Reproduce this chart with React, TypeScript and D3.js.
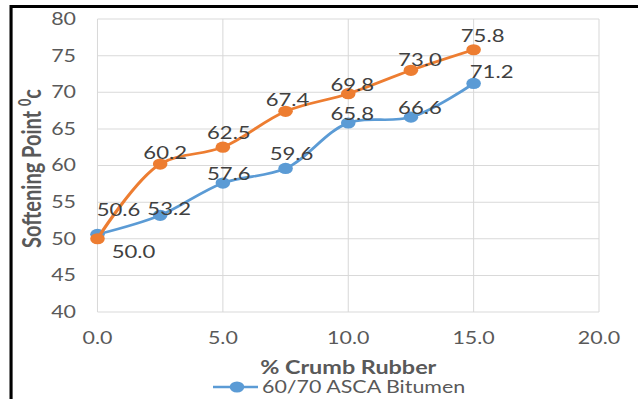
import React from "react";
import * as d3 from "d3";

// Crumb rubber content (%) and softening point (°C) for the two binders
const crumbRubber = [0, 2.5, 5, 7.5, 10, 12.5, 15];
const ascaBitumen = [50.6, 53.2, 57.6, 59.6, 65.8, 66.6, 71.2];
const secondBinder = [50.0, 60.2, 62.5, 67.4, 69.8, 73.0, 75.8];
const xTicks = [0, 5, 10, 15, 20];
const yTicks = [40, 45, 50, 55, 60, 65, 70, 75, 80];
const legendName = "60/70 ASCA Bitumen";

const W = 643;
const H = 399;
// the chart is drawn in a narrower coordinate space, then stretched horizontally
const SX = 1.3;
const VW = W / SX;

const FONT = "Lato, Carlito, Calibri, 'Open Sans', sans-serif";
const BLUE = "#5B9BD5";
const ORANGE = "#ED7D31";
const GRID = "#D9D9D9";

// label placement relative to each point (px, screen space: dx, dy of text centre)
const blueOffsets: [number, number][] = [
  [21, -24], [9, -6], [6, -9], [6, -15], [4, -9], [9, -9], [18, -12],
];
const orangeOffsets: [number, number][] = [
  [36, 13], [5, -11], [6, -14], [2, -11], [4, -9], [9, -10], [9, -14],
];

export default function App() {
  const x = d3.scaleLinear().domain([0, 20]).range([97.5 / SX, 599 / SX]);
  const y = d3.scaleLinear().domain([40, 80]).range([312, 19]);

  const line = d3
    .line<number>()
    .x((_, i) => x(crumbRubber[i]))
    .y((d) => y(d))
    .curve(d3.curveCatmullRom.alpha(0.5));

  const series = [
    { values: ascaBitumen, color: BLUE, offsets: blueOffsets },
    { values: secondBinder, color: ORANGE, offsets: orangeOffsets },
  ];

  const [x0, x1] = x.range();
  const [y0, y1] = y.range();
  const cx = (x0 + x1) / 2;
  const cy = (y0 + y1) / 2;

  return (
    <svg
      width={W}
      height={H}
      viewBox={`0 0 ${VW} ${H}`}
      preserveAspectRatio="none"
      style={{ position: "absolute", left: 0, top: 0, background: "#fff" }}
    >
      <rect x={0} y={0} width={VW} height={H} fill="#fff" />
      {/* frame */}
      <line x1={8.5} x2={638 / SX} y1={6.5} y2={6.5} stroke="#000" strokeWidth={3} />
      <line x1={8.5} x2={8.5} y1={5} y2={H} stroke="#000" strokeWidth={2.4} />

      {/* grid */}
      {yTicks.map((t) => (
        <line key={"gy" + t} x1={x0} x2={x1} y1={y(t)} y2={y(t)} stroke={GRID} strokeWidth={1} />
      ))}
      {xTicks.map((t) => (
        <line key={"gx" + t} x1={x(t)} x2={x(t)} y1={y0} y2={y1} stroke={GRID} strokeWidth={0.8} />
      ))}

      {/* tick labels */}
      {yTicks.map((t) => (
        <text
          key={"ty" + t}
          x={76 / SX}
          y={y(t)}
          dy="0.36em"
          textAnchor="end"
          fontFamily={FONT}
          fontSize={16.5}
          fill="#595959"
        >
          {t}
        </text>
      ))}
      {xTicks.map((t) => (
        <text
          key={"tx" + t}
          x={x(t)}
          y={344}
          textAnchor="middle"
          fontFamily={FONT}
          fontSize={16.5}
          fill="#595959"
        >
          {t.toFixed(1)}
        </text>
      ))}

      {/* axis titles */}
      <text
        x={cx}
        y={374}
        textAnchor="middle"
        fontFamily={FONT}
        fontSize={18}
        fontWeight="bold"
        fill="#595959"
      >
        % Crumb Rubber
      </text>
      <text
        transform={`translate(${32 / SX},${cy + 3}) rotate(-90)`}
        dy="0.36em"
        textAnchor="middle"
        fontFamily={FONT}
        fontSize={20}
        fontWeight="bold"
        fill="#595959"
      >
        Softening Point{" "}
        <tspan fontSize={12.5} dy="-8">0</tspan>
        <tspan dy="8">c</tspan>
      </text>

      {/* series */}
      {series.map((s, si) => (
        <g key={"s" + si}>
          <path d={line(s.values) || ""} fill="none" stroke={s.color} strokeWidth={2.6} />
          {s.values.map((v, i) => (
            <ellipse
              key={i}
              cx={x(crumbRubber[i])}
              cy={y(v)}
              rx={5.6}
              ry={5.6}
              fill={s.color}
            />
          ))}
        </g>
      ))}

      {/* value labels */}
      {series.map((s, si) =>
        s.values.map((v, i) => (
          <text
            key={`l${si}-${i}`}
            x={x(crumbRubber[i]) + s.offsets[i][0] / SX}
            y={y(v) + s.offsets[i][1]}
            dy="0.36em"
            textAnchor="middle"
            fontFamily={FONT}
            fontSize={17}
            fill="#404040"
          >
            {v.toFixed(1)}
          </text>
        ))
      )}

      {/* legend */}
      <line x1={213 / SX} x2={258 / SX} y1={387} y2={387} stroke={BLUE} strokeWidth={2.6} />
      <ellipse cx={237 / SX} cy={387} rx={5.6} ry={5.6} fill={BLUE} />
      <text x={262 / SX} y={387} dy="0.36em" fontFamily={FONT} fontSize={16.5} fill="#595959">
        {legendName}
      </text>
    </svg>
  );
}
